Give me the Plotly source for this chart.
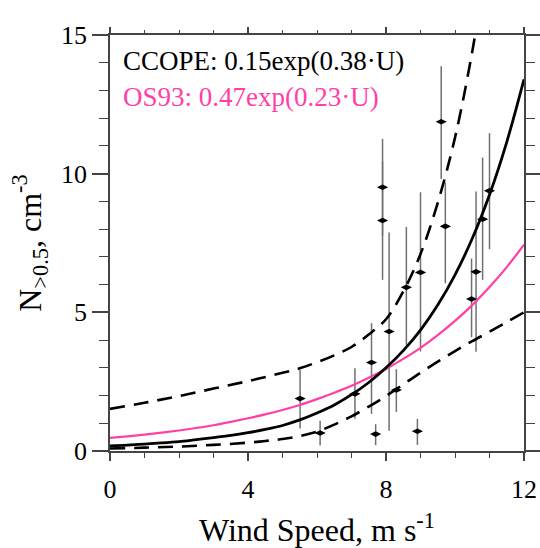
import plotly.graph_objects as go

# ---- data ----
obs_u = [5.51, 6.09, 7.10, 7.58, 7.70, 7.90, 7.90, 8.09, 8.30, 8.59, 8.91, 9.00, 9.60, 9.72, 10.48, 10.61, 10.80, 11.00]
obs_n = [1.89, 0.65, 2.06, 3.19, 0.61, 9.51, 8.31, 4.31, 2.20, 5.90, 0.71, 6.44, 11.87, 8.10, 5.48, 6.46, 8.36, 9.38]
err_plus = [1.03, 0.44, 0.92, 1.42, 0.36, 1.74, 2.14, 3.57, 0.75, 2.18, 0.45, 2.89, 2.00, 1.58, 1.46, 2.90, 2.22, 2.08]
err_minus = [1.08, 0.45, 0.90, 1.85, 0.40, 1.74, 2.14, 3.58, 0.79, 2.07, 0.49, 2.85, 2.06, 2.05, 1.38, 2.88, 2.19, 2.10]

curve_u = [0, 0.5, 1, 1.5, 2, 2.5, 3, 3.5, 4, 4.5, 5, 5.5, 6, 6.5, 7, 7.5, 8, 8.5, 9, 9.5, 10, 10.5, 11, 11.5, 12]
ccope_n = [0.18, 0.21, 0.25, 0.29, 0.34, 0.41, 0.48, 0.56, 0.66, 0.78, 0.92, 1.12, 1.37, 1.66, 2.03,
           2.47, 3.0, 3.62, 4.36, 5.26, 6.35, 7.66, 9.24, 11.14, 13.4]
os93_n = [0.47, 0.53, 0.59, 0.66, 0.74, 0.83, 0.93, 1.05, 1.18, 1.32, 1.48, 1.66, 1.87, 2.10, 2.35,
          2.64, 2.96, 3.32, 3.72, 4.18, 4.69, 5.26, 5.91, 6.63, 7.44]

upper_u = [0, 1, 2, 3, 4, 5, 5.5, 6, 6.5, 7, 7.5, 8, 8.5, 9, 9.5, 10, 10.5, 10.8]
upper_n = [1.52, 1.74, 1.98, 2.25, 2.52, 2.82, 2.98, 3.2, 3.45, 3.75, 4.2, 4.75, 5.75, 7.1, 8.95, 11.3, 14.4, 16.7]
lower_u = [0, 1, 2, 3, 4, 4.5, 5, 5.5, 6, 6.5, 7, 7.5, 8, 8.5, 9, 9.5, 10, 10.5, 11, 11.5, 12]
lower_n = [0.09, 0.12, 0.16, 0.22, 0.30, 0.36, 0.43, 0.54, 0.70, 0.95, 1.25, 1.60, 1.98, 2.40, 2.82,
           3.22, 3.60, 3.96, 4.30, 4.65, 5.0]

x_ticks = [0, 4, 8, 12]
y_ticks = [0, 5, 10, 15]
label_ccope = "CCOPE: 0.15exp(0.38·U)"
label_os93 = "OS93: 0.47exp(0.23·U)"

FONT = "Liberation Serif, Times New Roman, serif"
PINK = "#ff3fa6"
AX = "#444444"

fig = go.Figure()
fig.add_trace(go.Scatter(
    x=obs_u, y=obs_n, mode="markers",
    marker=dict(symbol="diamond-wide", size=8, color="black"),
    error_y=dict(type="data", symmetric=False, array=err_plus, arrayminus=err_minus,
                 color="#707070", thickness=1.5, width=0),
    showlegend=False))
fig.add_trace(go.Scatter(x=upper_u, y=upper_n, mode="lines", line=dict(color="black", width=2.6, dash="15px,9px", shape="spline"), showlegend=False))
fig.add_trace(go.Scatter(x=lower_u, y=lower_n, mode="lines", line=dict(color="black", width=2.6, dash="15px,9px", shape="spline"), showlegend=False))
fig.add_trace(go.Scatter(x=curve_u, y=os93_n, mode="lines", line=dict(color=PINK, width=2.2, shape="spline"), showlegend=False))
fig.add_trace(go.Scatter(x=curve_u, y=ccope_n, mode="lines", line=dict(color="black", width=2.8, shape="spline"), showlegend=False))
# dummy trace for the mirrored top/right axes
fig.add_trace(go.Scatter(x=[0], y=[0], xaxis="x2", yaxis="y2", mode="markers",
                         marker=dict(opacity=0), showlegend=False, hoverinfo="skip"))

fig.add_annotation(x=0.33, y=14.05, xref="x", yref="y", text=label_ccope, showarrow=False,
                   xanchor="left", yanchor="middle", font=dict(family=FONT, size=27, color="black"))
fig.add_annotation(x=0.33, y=12.75, xref="x", yref="y", text=label_os93, showarrow=False,
                   xanchor="left", yanchor="middle", font=dict(family=FONT, size=27, color=PINK))

fig.update_layout(
    width=540, height=548,
    margin=dict(l=109.5, r=15.5, t=35, b=97),
    paper_bgcolor="white", plot_bgcolor="white",
    font=dict(family=FONT, size=26, color="black"),
    xaxis=dict(range=[0, 12], tickvals=x_ticks, ticks="outside", ticklen=8, tickwidth=1.5,
               tickcolor=AX, showline=True, linecolor=AX, linewidth=1.5, showgrid=False,
               zeroline=False, tickfont=dict(family=FONT, size=26), automargin=False,
               ticklabelstandoff=6,
               minor=dict(dtick=1, tick0=0, ticks="outside", ticklen=5, tickwidth=1.3, tickcolor=AX),
               title=dict(text="Wind Speed, m s<sup>-1</sup>", font=dict(family=FONT, size=32), standoff=18)),
    yaxis=dict(range=[0, 15], tickvals=y_ticks, ticks="outside", ticklen=16, tickwidth=1.5,
               tickcolor=AX, showline=True, linecolor=AX, linewidth=1.5, showgrid=False,
               zeroline=False, tickfont=dict(family=FONT, size=26), automargin=False,
               minor=dict(dtick=1, tick0=0, ticks="outside", ticklen=9, tickwidth=1.3, tickcolor=AX),
               title=dict(text="N<sub>&gt;0.5</sub>, cm<sup>-3</sup>", font=dict(family=FONT, size=32), standoff=10)),
    xaxis2=dict(range=[0, 12], overlaying="x", side="top", anchor="y", tickvals=x_ticks,
                ticks="outside", ticklen=6, tickwidth=1.5, tickcolor=AX, showticklabels=False,
                showline=True, linecolor=AX, linewidth=1.5, showgrid=False, zeroline=False, automargin=False,
                minor=dict(dtick=1, tick0=0, ticks="outside", ticklen=3, tickwidth=1.3, tickcolor=AX)),
    yaxis2=dict(range=[0, 15], overlaying="y", side="right", anchor="x", tickvals=y_ticks,
                ticks="outside", ticklen=16, tickwidth=1.5, tickcolor=AX, showticklabels=False,
                showline=True, linecolor=AX, linewidth=1.5, showgrid=False, zeroline=False, automargin=False,
                minor=dict(dtick=1, tick0=0, ticks="outside", ticklen=9, tickwidth=1.3, tickcolor=AX)),
)

fig.write_html("out.html")
